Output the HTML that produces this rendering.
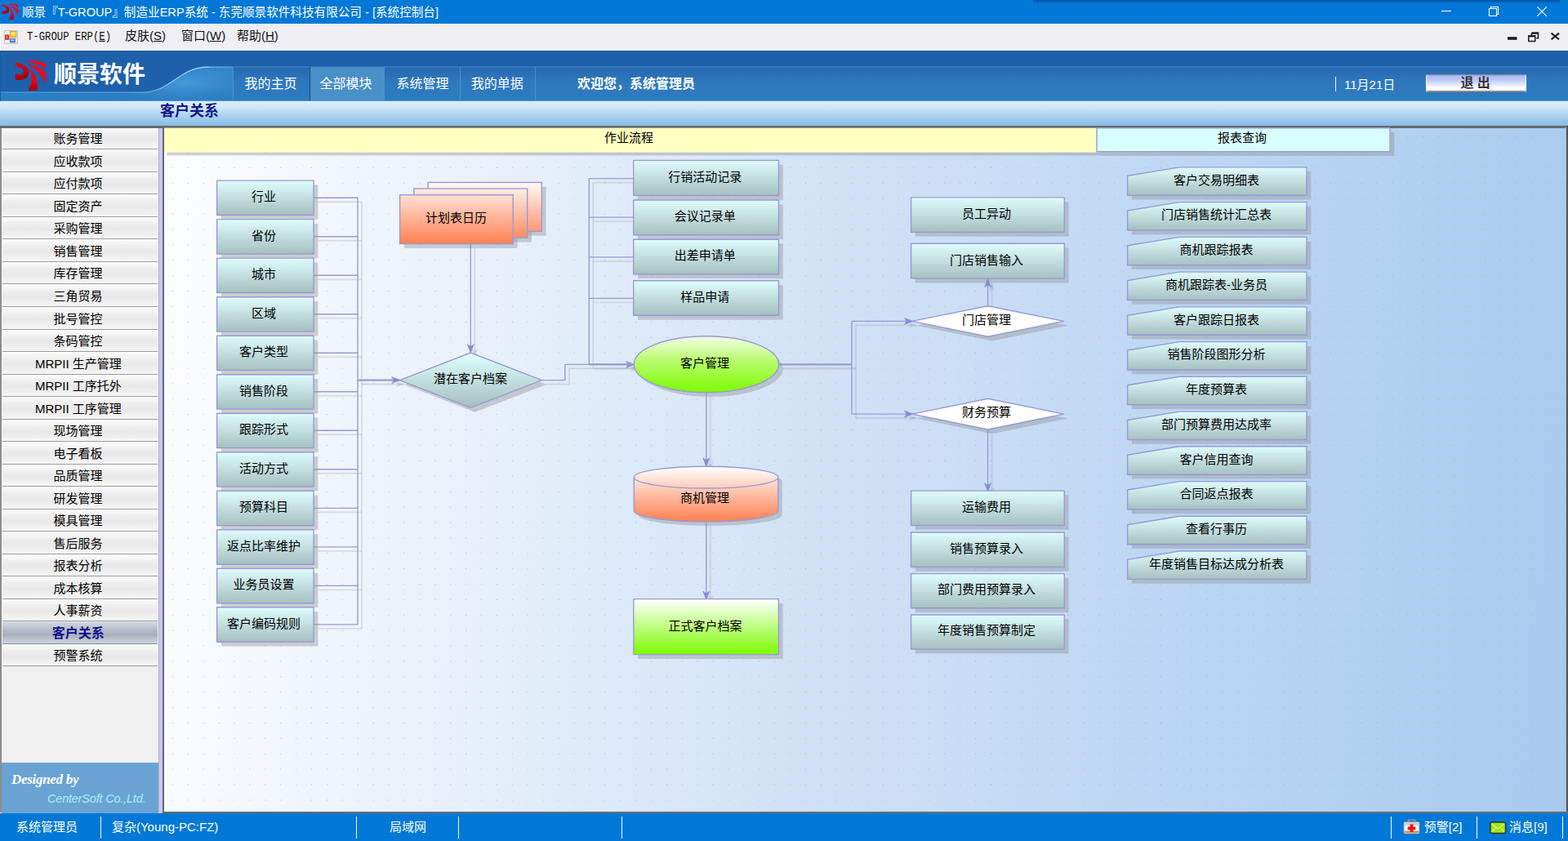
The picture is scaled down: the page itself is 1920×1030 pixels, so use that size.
<!DOCTYPE html>
<html lang="zh"><head><meta charset="utf-8"><title>T-GROUP ERP</title>
<style>
*{box-sizing:border-box;margin:0;padding:0}
html,body{width:1920px;height:1030px;overflow:hidden;background:#fff}
body{position:relative;font-family:"Liberation Serif",serif;font-size:15px;color:#000}
.abs{position:absolute}
.sans{font-family:"Liberation Sans",sans-serif}
.tx{font-family:"Liberation Sans","Noto Sans CJK SC",sans-serif;color:#000;white-space:nowrap;overflow:visible}
.tx.cw{color:#fff}
#title{left:0;top:0;width:1920px;height:29px;background:#0078d7}
#title .t{left:27px;top:0;height:29px;line-height:29px;font-size:14.6px;color:#fff;white-space:nowrap;letter-spacing:0.03px}
#menu{left:0;top:29px;width:1920px;height:33px;background:#efeef3;border-left:1px solid #fff}
#menu .m{top:0;height:33px;line-height:31px;font-size:15px;white-space:nowrap;color:#111}
#menu u{text-decoration:underline}
#hdr{left:0;top:62px;width:1920px;height:62px}
.tab{top:82px;height:42px;line-height:43px;font-size:16px;color:#fff;text-align:center;white-space:nowrap}
#sub{left:0;top:123.5px;width:1920px;height:31px;background:linear-gradient(to bottom,#dbf0fb 0%,#cde6f8 25%,#a6cfee 62%,#8bbee6 92%,#86bae4 100%)}
#sub .t{left:196px;top:0;height:29px;line-height:28px;font-size:18px;font-weight:bold;color:#10188c;white-space:nowrap}
#side{left:0;top:154px;width:201px;height:841.7px;background:#f0f0f0}
.si{left:2.5px;width:190.5px;padding-right:4.6px;text-align:center;font-size:15px;white-space:nowrap;border-top:1px solid #fff;border-bottom:1px solid #9a9a9a;background:linear-gradient(to bottom,#fbfbfb 0%,#eeeeee 30%,#e8e8e8 55%,#f6f6f6 100%)}
.si.sel{font-weight:bold;color:#10108c;font-size:16px;border-top:1px solid #e8e8ee;border-bottom:1px solid #80869a;background:linear-gradient(to bottom,#d2d6e0 0%,#b4bac8 40%,#a8b0c0 60%,#d0d4dc 100%)}
#main{left:201px;top:156px;width:1716px;height:838.5px;background:linear-gradient(95.5deg,#fcfdff 0%,#e9f1fb 22%,#d1e2f6 47%,#bcd6f3 72%,#a8caee 100%)}
#dots{left:201px;top:156px;width:1716px;height:838px;background-image:radial-gradient(circle,rgba(168,158,152,.7) 0.45px,rgba(168,158,152,0) 1.0px);background-size:18.92px 18.9px;background-position:0.95px 2.2px}
.lb{text-align:center;white-space:nowrap;font-size:15px;color:#000}
#status{left:0;top:995.6px;width:1920px;height:34.4px;background:#0078d7;color:#fff}
#status .s{top:0;height:35px;line-height:35px;font-size:15px;white-space:nowrap}
#status .sep{top:4.4px;width:1.5px;height:27px;background:#f4f8ff}
</style></head><body>

<div id="title" class="abs">
<div class="abs" style="left:1265px;top:0;width:645px;height:4px;background:linear-gradient(to bottom,rgba(0,50,110,.55),rgba(0,60,120,0))"></div>
<svg class="abs" style="left:1.5px;top:4px" width="21.6" height="21.6" viewBox="0 0 40 40">
<defs><linearGradient id="lta" x1="0" y1="0" x2="0.4" y2="1"><stop offset="0" stop-color="#e8041c"/><stop offset="1" stop-color="#a80008"/></linearGradient>
<linearGradient id="ltb" x1="0" y1="0" x2="0" y2="1"><stop offset="0" stop-color="#ff0420"/><stop offset="0.55" stop-color="#f00018"/><stop offset="1" stop-color="#a40008"/></linearGradient></defs>
<path fill="url(#lta)" d="M0.9 2.2 C8 3.2 17 7.5 17.2 14.5 C17.4 21.5 9.5 25.5 0.9 23.4 L0.9 16 C5.5 19 10.8 17.8 10.9 13.8 C11 10 6 7.6 0.9 7.2 Z"/>
<path fill="#ff0420" d="M12.4 1.5 C21 -0.8 31 0.2 38 4.4 L38 10.2 C31 4.8 22 2.2 12.4 1.5 Z"/>
<path fill="#fa0420" d="M15.8 4.4 C25 5.2 33 9.5 38 15.4 L37.6 29.4 C34 18 26 9.5 15.8 4.4 Z"/>
<path fill="url(#ltb)" d="M17.2 8.6 C24.5 14.5 28.6 25 28 36.6 L16.6 37.2 C21.5 28.5 22.2 18 17.2 8.6 Z"/>
</svg>
<svg class="abs" style="left:1750px;top:0" width="170" height="29" viewBox="1750 0 170 29" fill="none" stroke="#fff" stroke-width="1.1">
<path d="M1765 13.5H1777"/>
<path d="M1823.5 10.5h9v9h-9z M1825.5 10.5v-2h9v9h-2"/>
<path d="M1882.3 8.3l11.6 11.6M1893.9 8.3l-11.6 11.6"/>
</svg>
</div>
<div id="menu" class="abs">
<svg class="abs" style="left:4.2px;top:7.6px" width="17.2" height="17.2" viewBox="0 0 19 19">
<rect x="0.5" y="0.5" width="17.5" height="17.5" fill="#e4e4ea" stroke="#c4c4cc"/>
<rect x="1.5" y="1.5" width="5" height="4" fill="#f4f4f8"/>
<rect x="1.5" y="6.5" width="5" height="6" fill="#e03020" stroke="#a02018" stroke-width=".6"/>
<rect x="3" y="8" width="1.6" height="2.4" fill="#ffb0a0"/>
<rect x="1.5" y="13.5" width="5" height="3.5" fill="#f4f4f8"/>
<rect x="8" y="1.5" width="8.5" height="8" fill="#f8c828" stroke="#c89010" stroke-width=".7"/>
<rect x="9.5" y="3" width="5.5" height="3" fill="#fff0a0"/>
<rect x="8" y="11.5" width="7" height="5" fill="#5088e0" stroke="#3060b0" stroke-width=".6"/>
<rect x="9.3" y="12.6" width="4.4" height="1.8" fill="#b0d0ff"/>
</svg>
<div class="abs m" style="left:32px;width:120px;font-family:'Liberation Mono',monospace;font-size:12.3px;line-height:32.4px;transform:scale(1,1.24);transform-origin:0 50%;letter-spacing:-0.02px">T-GROUP ERP(<u>E</u>)</div>
<svg class="abs" style="left:1839px;top:6px" width="80" height="22" viewBox="1840 35 80 22">
<rect x="1846" y="45.2" width="11.5" height="3.6" fill="#1c1c1c"/>
<path d="M1875.5 40.2h8v6.6h-2.2M1875.5 40.2v3" fill="none" stroke="#1c1c1c" stroke-width="1.6"/>
<path d="M1875.5 40.7h8" stroke="#1c1c1c" stroke-width="2.2"/>
<rect x="1871.8" y="43.9" width="8" height="6.6" fill="#efeef3" stroke="#1c1c1c" stroke-width="1.5"/>
<path d="M1871.8 44.3h8" stroke="#1c1c1c" stroke-width="2.1"/>
<path d="M1899.6 40.6l9.4 7.6M1909 40.6l-9.4 7.6" stroke="#1c1c1c" stroke-width="2.1"/>
</svg>
</div>
<div id="hdr" class="abs">
<svg class="abs" style="left:0;top:0" width="1920" height="62" viewBox="0 62 1920 62">
<defs>
<linearGradient id="hg1" x1="0" y1="0" x2="0" y2="1"><stop offset="0" stop-color="#2867b0"/><stop offset="0.18" stop-color="#2a6eb6"/><stop offset="0.45" stop-color="#2e79be"/><stop offset="1" stop-color="#2c7bbf"/></linearGradient>
<linearGradient id="hg2" x1="0" y1="0" x2="0" y2="1"><stop offset="0" stop-color="#2f84c8"/><stop offset="1" stop-color="#2b7cc0"/></linearGradient>
<radialGradient id="hg3" cx="0.62" cy="0.45" r="0.6"><stop offset="0" stop-color="#4a9ad8" stop-opacity=".95"/><stop offset="1" stop-color="#3a8cd0" stop-opacity="0"/></radialGradient>
<linearGradient id="hgs" gradientUnits="userSpaceOnUse" x1="0" y1="0" x2="286" y2="0"><stop offset="0" stop-color="#4a9ee0"/><stop offset="0.55" stop-color="#4fa4e4"/><stop offset="0.8" stop-color="#a8d6f6"/><stop offset="0.9" stop-color="#b8defa"/><stop offset="1" stop-color="#6ab4ea"/></linearGradient>
<linearGradient id="hgl" x1="0" y1="0" x2="1" y2="0"><stop offset="0" stop-color="#1e60aa" stop-opacity="0"/><stop offset="0.25" stop-color="#1e60aa" stop-opacity="0"/><stop offset="1" stop-color="#2468b2" stop-opacity="0"/></linearGradient>
</defs>
<rect x="0" y="62" width="1920" height="62" fill="#1e60aa"/>
<rect x="250" y="82" width="1670" height="42" fill="url(#hg1)"/>
<path d="M0 113.4 H175 C208 113.4 220 82.3 254 82.3 H285.5 V124 H0 Z" fill="url(#hg2)"/>
<path d="M130 113.2 H175 C208 113.2 220 82.3 254 82.3 H285.5 V124 H130 Z" fill="url(#hg3)"/>
<path d="M0 113.1 H175 C208 113.1 220 82.2 254 82.2 H286" fill="none" stroke="url(#hgs)" stroke-width="1.15"/>
<path d="M256 82 H1920" stroke="#3f8fd6" stroke-width="1.2"/>
<rect x="380" y="82.5" width="90" height="41.5" fill="#4a90c8"/>
<path d="M379.5 82v42" stroke="#1c4f88" stroke-width="1.2"/>
<g stroke="#4d95d2" stroke-width="1" stroke-opacity=".85"><path d="M285.5 82v42M470.5 82v42M563.5 82v42M655.5 82v42"/></g>
<rect x="0" y="123" width="1920" height="1" fill="#5aa8e4" fill-opacity=".8"/>
<rect x="0" y="62" width="0.8" height="62" fill="#1a5598"/>
</svg>
<svg class="abs" style="left:18px;top:12px" width="40.0" height="40.0" viewBox="0 0 40 40">
<defs><linearGradient id="lha" x1="0" y1="0" x2="0.4" y2="1"><stop offset="0" stop-color="#e8041c"/><stop offset="1" stop-color="#a80008"/></linearGradient>
<linearGradient id="lhb" x1="0" y1="0" x2="0" y2="1"><stop offset="0" stop-color="#ff0420"/><stop offset="0.55" stop-color="#f00018"/><stop offset="1" stop-color="#a40008"/></linearGradient></defs>
<path fill="url(#lha)" d="M0.9 2.2 C8 3.2 17 7.5 17.2 14.5 C17.4 21.5 9.5 25.5 0.9 23.4 L0.9 16 C5.5 19 10.8 17.8 10.9 13.8 C11 10 6 7.6 0.9 7.2 Z"/>
<path fill="#ff0420" d="M12.4 1.5 C21 -0.8 31 0.2 38 4.4 L38 10.2 C31 4.8 22 2.2 12.4 1.5 Z"/>
<path fill="#fa0420" d="M15.8 4.4 C25 5.2 33 9.5 38 15.4 L37.6 29.4 C34 18 26 9.5 15.8 4.4 Z"/>
<path fill="url(#lhb)" d="M17.2 8.6 C24.5 14.5 28.6 25 28 36.6 L16.6 37.2 C21.5 28.5 22.2 18 17.2 8.6 Z"/>
</svg>
<div class="abs" style="left:1634.9px;top:32.2px;width:1.4px;height:17.4px;background:#eaf3fc"></div>
<div class="abs" style="left:1746px;top:29px;width:123.4px;height:22.2px;border-radius:3px;background:linear-gradient(to bottom,#6e6a78 0,#8890b8 1px,#aebcf6 2px,#b8c6f8 28%,#dfe5fd 55%,#ffffff 75%,#ffffff 88%,#8a8690 94%,#6a6264 100%);box-shadow:inset 1.5px 0 1px -0.5px rgba(255,255,255,.8),inset -1.5px 0 1px -0.5px rgba(255,255,255,.8)"></div>
</div>
<div id="sub" class="abs"></div>
<div id="side" class="abs">
<div class="abs" style="left:0;top:0;width:201px;height:2px;background:#5a6068"></div>
<div class="abs" style="left:0;top:0;width:2px;height:841px;background:#8c8c8c"></div>
<div class="abs" style="left:193.5px;top:2px;width:1px;height:839px;background:#b4b4b4"></div>
<div class="abs" style="left:194.8px;top:2px;width:4.5px;height:839.7px;background:#c8c8ff"></div>
<div class="abs" style="left:199.3px;top:1px;width:1.7px;height:840.7px;background:#686868"></div>
<div class="abs si" style="top:1.8px;height:27.5px"></div>
<div class="abs si" style="top:29.3px;height:27.5px"></div>
<div class="abs si" style="top:56.8px;height:27.6px"></div>
<div class="abs si" style="top:84.4px;height:27.5px"></div>
<div class="abs si" style="top:111.9px;height:27.5px"></div>
<div class="abs si" style="top:139.4px;height:27.5px"></div>
<div class="abs si" style="top:166.9px;height:27.5px"></div>
<div class="abs si" style="top:194.4px;height:27.6px"></div>
<div class="abs si" style="top:222.0px;height:27.5px"></div>
<div class="abs si" style="top:249.5px;height:27.5px"></div>
<div class="abs si" style="top:277.0px;height:27.5px"></div>
<div class="abs si" style="top:304.5px;height:27.5px"></div>
<div class="abs si" style="top:332.0px;height:27.6px"></div>
<div class="abs si" style="top:359.6px;height:27.5px"></div>
<div class="abs si" style="top:387.1px;height:27.5px"></div>
<div class="abs si" style="top:414.6px;height:27.5px"></div>
<div class="abs si" style="top:442.1px;height:27.5px"></div>
<div class="abs si" style="top:469.6px;height:27.6px"></div>
<div class="abs si" style="top:497.2px;height:27.5px"></div>
<div class="abs si" style="top:524.7px;height:27.5px"></div>
<div class="abs si" style="top:552.2px;height:27.5px"></div>
<div class="abs si" style="top:579.7px;height:27.5px"></div>
<div class="abs si sel" style="top:607.2px;height:27.6px"></div>
<div class="abs si" style="top:634.8px;height:27.5px"></div>
<div class="abs" style="left:2px;top:779.8px;width:191.8px;height:62px;background:#6aa3d3"></div>
<div class="abs" style="left:14px;top:789px;font-size:17px;font-style:italic;font-weight:bold;color:#fff;white-space:nowrap;line-height:24px;letter-spacing:-0.3px">Designed by</div>
<div class="abs sans" style="left:58px;top:814px;font-size:14.5px;font-style:italic;color:#a4f0fa;white-space:nowrap;line-height:20px;letter-spacing:-0.2px">CenterSoft Co.,Ltd.</div>
</div>
<div id="main" class="abs"></div>
<div id="dots" class="abs"></div>
<div class="abs" style="left:0;top:154px;width:1920px;height:2.8px;background:#666a6e"></div>
<div class="abs" style="left:1917px;top:156px;width:1px;height:839px;background:#a4b4c8"></div><div class="abs" style="left:1918px;top:154px;width:2px;height:841px;background:#54585e"></div>
<div class="abs" style="left:200px;top:994px;width:1720px;height:1.7px;background:#6e6e70"></div>
<svg class="abs" style="left:0;top:0;pointer-events:none" width="1920" height="1030" viewBox="0 0 1920 1030">
<defs>
<linearGradient id="gb" x1="0" y1="0" x2="0" y2="1"><stop offset="0" stop-color="#dffcfc"/><stop offset="1" stop-color="#a6c0c0"/></linearGradient>
<linearGradient id="gb2" x1="0" y1="0" x2="0" y2="1"><stop offset="0" stop-color="#e0ffff"/><stop offset="1" stop-color="#a4bebe"/></linearGradient>
<linearGradient id="gdoc" gradientUnits="userSpaceOnUse" x1="0" y1="223" x2="0" y2="299"><stop offset="0" stop-color="#fffaf8"/><stop offset="1" stop-color="#ff7f50"/></linearGradient>
<linearGradient id="gel" x1="0" y1="0" x2="0" y2="1"><stop offset="0" stop-color="#f4ffe6"/><stop offset="0.45" stop-color="#b6fc6a"/><stop offset="1" stop-color="#7cfc00"/></linearGradient>
<linearGradient id="gcy" x1="0" y1="0" x2="0" y2="1"><stop offset="0" stop-color="#ffffff"/><stop offset="1" stop-color="#ff7f50"/></linearGradient>
<linearGradient id="ggr" x1="0" y1="0" x2="0" y2="1"><stop offset="0" stop-color="#ffffff"/><stop offset="1" stop-color="#7cfc00"/></linearGradient>
</defs>
<path d="M389.2 247.2 L443.0 247.2" fill="none" stroke="rgba(150,150,155,0.26)" stroke-width="1.88"/>
<path d="M389.2 294.7 L443.0 294.7" fill="none" stroke="rgba(150,150,155,0.26)" stroke-width="1.88"/>
<path d="M389.2 342.2 L443.0 342.2" fill="none" stroke="rgba(150,150,155,0.26)" stroke-width="1.88"/>
<path d="M389.2 389.8 L443.0 389.8" fill="none" stroke="rgba(150,150,155,0.26)" stroke-width="1.88"/>
<path d="M389.2 437.3 L443.0 437.3" fill="none" stroke="rgba(150,150,155,0.26)" stroke-width="1.88"/>
<path d="M389.2 484.8 L443.0 484.8" fill="none" stroke="rgba(150,150,155,0.26)" stroke-width="1.88"/>
<path d="M389.2 532.3 L443.0 532.3" fill="none" stroke="rgba(150,150,155,0.26)" stroke-width="1.88"/>
<path d="M389.2 579.8 L443.0 579.8" fill="none" stroke="rgba(150,150,155,0.26)" stroke-width="1.88"/>
<path d="M389.2 627.4 L443.0 627.4" fill="none" stroke="rgba(150,150,155,0.26)" stroke-width="1.88"/>
<path d="M389.2 674.9 L443.0 674.9" fill="none" stroke="rgba(150,150,155,0.26)" stroke-width="1.88"/>
<path d="M389.2 722.4 L443.0 722.4" fill="none" stroke="rgba(150,150,155,0.26)" stroke-width="1.88"/>
<path d="M389.2 769.9 L443.0 769.9" fill="none" stroke="rgba(150,150,155,0.26)" stroke-width="1.88"/>
<path d="M443.0 247.2 L443.0 769.9" fill="none" stroke="rgba(150,150,155,0.26)" stroke-width="1.88"/>
<path d="M443.0 470.6 L494.5 470.6" fill="none" stroke="rgba(150,150,155,0.26)" stroke-width="2.9"/>
<polygon points="495.0,470.6 484.7,466.6 487.3,470.6 484.7,474.6" fill="rgba(150,150,155,0.26)"/>
<path d="M581.3 303.5 L581.3 436.6" fill="none" stroke="rgba(150,150,155,0.26)" stroke-width="1.88"/>
<polygon points="581.3,437.1 585.3,426.8 581.3,429.4 577.3,426.8" fill="rgba(150,150,155,0.26)"/>
<path d="M668.5 470.6 L696.8 470.6 L696.8 451.4 L781.5 451.4" fill="none" stroke="rgba(150,150,155,0.26)" stroke-width="1.88"/>
<polygon points="782.0,451.4 771.7,447.4 774.3,451.4 771.7,455.4" fill="rgba(150,150,155,0.26)"/>
<path d="M726.3 223.6 L781.0 223.6" fill="none" stroke="rgba(150,150,155,0.26)" stroke-width="1.88"/>
<path d="M726.3 271.1 L781.0 271.1" fill="none" stroke="rgba(150,150,155,0.26)" stroke-width="1.88"/>
<path d="M726.3 319.9 L781.0 319.9" fill="none" stroke="rgba(150,150,155,0.26)" stroke-width="1.88"/>
<path d="M726.3 370.4 L781.0 370.4" fill="none" stroke="rgba(150,150,155,0.26)" stroke-width="1.88"/>
<path d="M726.3 223.6 L726.3 451.4" fill="none" stroke="rgba(150,150,155,0.26)" stroke-width="1.88"/>
<path d="M726.3 451.4 L781.5 451.4" fill="none" stroke="rgba(150,150,155,0.26)" stroke-width="2.9"/>
<path d="M869.8 485.0 L869.8 575.8" fill="none" stroke="rgba(150,150,155,0.26)" stroke-width="1.88"/>
<polygon points="869.8,576.3 873.8,566.0 869.8,568.6 865.8,566.0" fill="rgba(150,150,155,0.26)"/>
<path d="M869.8 644.0 L869.8 739.0" fill="none" stroke="rgba(150,150,155,0.26)" stroke-width="1.88"/>
<polygon points="869.8,739.5 873.8,729.2 869.8,731.8 865.8,729.2" fill="rgba(150,150,155,0.26)"/>
<path d="M1214.6 379.8 L1214.6 346.8" fill="none" stroke="rgba(150,150,155,0.26)" stroke-width="1.88"/>
<polygon points="1214.6,346.3 1210.6,356.6 1214.6,354.0 1218.6,356.6" fill="rgba(150,150,155,0.26)"/>
<path d="M958.0 451.3 L1048.0 451.3" fill="none" stroke="rgba(150,150,155,0.26)" stroke-width="2.8"/>
<path d="M1048.0 398.4 L1048.0 512.1" fill="none" stroke="rgba(150,150,155,0.26)" stroke-width="1.88"/>
<path d="M1048.0 398.4 L1122.3 398.4" fill="none" stroke="rgba(150,150,155,0.26)" stroke-width="1.88"/>
<polygon points="1122.8,398.4 1112.5,394.4 1115.1,398.4 1112.5,402.4" fill="rgba(150,150,155,0.26)"/>
<path d="M1048.0 512.1 L1122.3 512.1" fill="none" stroke="rgba(150,150,155,0.26)" stroke-width="1.88"/>
<polygon points="1122.8,512.1 1112.5,508.1 1115.1,512.1 1112.5,516.1" fill="rgba(150,150,155,0.26)"/>
<path d="M1214.6 531.0 L1214.6 606.5" fill="none" stroke="rgba(150,150,155,0.26)" stroke-width="1.88"/>
<polygon points="1214.6,607.0 1218.6,596.7 1214.6,599.3 1210.6,596.7" fill="rgba(150,150,155,0.26)"/>
<path d="M384.2 242.2 L438.0 242.2" fill="none" stroke="#989ad6" stroke-width="1.38"/>
<path d="M384.2 289.7 L438.0 289.7" fill="none" stroke="#989ad6" stroke-width="1.38"/>
<path d="M384.2 337.2 L438.0 337.2" fill="none" stroke="#989ad6" stroke-width="1.38"/>
<path d="M384.2 384.8 L438.0 384.8" fill="none" stroke="#989ad6" stroke-width="1.38"/>
<path d="M384.2 432.3 L438.0 432.3" fill="none" stroke="#989ad6" stroke-width="1.38"/>
<path d="M384.2 479.8 L438.0 479.8" fill="none" stroke="#989ad6" stroke-width="1.38"/>
<path d="M384.2 527.3 L438.0 527.3" fill="none" stroke="#989ad6" stroke-width="1.38"/>
<path d="M384.2 574.8 L438.0 574.8" fill="none" stroke="#989ad6" stroke-width="1.38"/>
<path d="M384.2 622.4 L438.0 622.4" fill="none" stroke="#989ad6" stroke-width="1.38"/>
<path d="M384.2 669.9 L438.0 669.9" fill="none" stroke="#989ad6" stroke-width="1.38"/>
<path d="M384.2 717.4 L438.0 717.4" fill="none" stroke="#989ad6" stroke-width="1.38"/>
<path d="M384.2 764.9 L438.0 764.9" fill="none" stroke="#989ad6" stroke-width="1.38"/>
<path d="M438.0 242.2 L438.0 764.9" fill="none" stroke="#989ad6" stroke-width="1.38"/>
<path d="M438.0 465.6 L489.5 465.6" fill="none" stroke="#989ad6" stroke-width="2.4"/>
<polygon points="490.0,465.6 479.7,461.6 482.3,465.6 479.7,469.6" fill="#8c8cd4" stroke="#8484cc" stroke-width=".6"/>
<path d="M576.3 298.5 L576.3 431.6" fill="none" stroke="#989ad6" stroke-width="1.38"/>
<polygon points="576.3,432.1 580.3,421.8 576.3,424.4 572.3,421.8" fill="#8c8cd4" stroke="#8484cc" stroke-width=".6"/>
<path d="M663.5 465.6 L691.8 465.6 L691.8 446.4 L776.5 446.4" fill="none" stroke="#989ad6" stroke-width="1.38"/>
<polygon points="777.0,446.4 766.7,442.4 769.3,446.4 766.7,450.4" fill="#8c8cd4" stroke="#8484cc" stroke-width=".6"/>
<path d="M721.3 218.6 L776.0 218.6" fill="none" stroke="#989ad6" stroke-width="1.38"/>
<path d="M721.3 266.1 L776.0 266.1" fill="none" stroke="#989ad6" stroke-width="1.38"/>
<path d="M721.3 314.9 L776.0 314.9" fill="none" stroke="#989ad6" stroke-width="1.38"/>
<path d="M721.3 365.4 L776.0 365.4" fill="none" stroke="#989ad6" stroke-width="1.38"/>
<path d="M721.3 218.6 L721.3 446.4" fill="none" stroke="#989ad6" stroke-width="1.38"/>
<path d="M721.3 446.4 L776.5 446.4" fill="none" stroke="#989ad6" stroke-width="2.4"/>
<path d="M864.8 480.0 L864.8 570.8" fill="none" stroke="#989ad6" stroke-width="1.38"/>
<polygon points="864.8,571.3 868.8,561.0 864.8,563.6 860.8,561.0" fill="#8c8cd4" stroke="#8484cc" stroke-width=".6"/>
<path d="M864.8 639.0 L864.8 734.0" fill="none" stroke="#989ad6" stroke-width="1.38"/>
<polygon points="864.8,734.5 868.8,724.2 864.8,726.8 860.8,724.2" fill="#8c8cd4" stroke="#8484cc" stroke-width=".6"/>
<path d="M1209.6 374.8 L1209.6 341.8" fill="none" stroke="#989ad6" stroke-width="1.38"/>
<polygon points="1209.6,341.3 1205.6,351.6 1209.6,349.0 1213.6,351.6" fill="#8c8cd4" stroke="#8484cc" stroke-width=".6"/>
<path d="M953.0 446.3 L1043.0 446.3" fill="none" stroke="#989ad6" stroke-width="2.3"/>
<path d="M1043.0 393.4 L1043.0 507.1" fill="none" stroke="#989ad6" stroke-width="1.38"/>
<path d="M1043.0 393.4 L1117.3 393.4" fill="none" stroke="#989ad6" stroke-width="1.38"/>
<polygon points="1117.8,393.4 1107.5,389.4 1110.1,393.4 1107.5,397.4" fill="#8c8cd4" stroke="#8484cc" stroke-width=".6"/>
<path d="M1043.0 507.1 L1117.3 507.1" fill="none" stroke="#989ad6" stroke-width="1.38"/>
<polygon points="1117.8,507.1 1107.5,503.1 1110.1,507.1 1107.5,511.1" fill="#8c8cd4" stroke="#8484cc" stroke-width=".6"/>
<path d="M1209.6 526.0 L1209.6 601.5" fill="none" stroke="#989ad6" stroke-width="1.38"/>
<polygon points="1209.6,602.0 1213.6,591.7 1209.6,594.3 1205.6,591.7" fill="#8c8cd4" stroke="#8484cc" stroke-width=".6"/>
<rect x="204.5" y="186.5" width="1144" height="3.9" fill="rgba(150,150,152,0.44)"/>
<rect x="201" y="156.7" width="1141.5" height="29.8" fill="#ffffc0"/>
<rect x="1348.3" y="162.1" width="359.0" height="28.8" fill="rgba(150,150,152,0.44)"/>
<rect x="1343.0" y="156.8" width="359.0" height="28.8" fill="#d8ffff" stroke="#989ad6" stroke-width="1.38" stroke-linejoin="round"/>
<rect x="270.9" y="226.4" width="118.5" height="42.4" fill="rgba(150,150,152,0.44)"/>
<rect x="265.6" y="221.1" width="118.5" height="42.4" fill="url(#gb)" stroke="#989ad6" stroke-width="1.38" stroke-linejoin="round"/>
<rect x="270.9" y="273.9" width="118.5" height="42.4" fill="rgba(150,150,152,0.44)"/>
<rect x="265.6" y="268.6" width="118.5" height="42.4" fill="url(#gb)" stroke="#989ad6" stroke-width="1.38" stroke-linejoin="round"/>
<rect x="270.9" y="321.4" width="118.5" height="42.4" fill="rgba(150,150,152,0.44)"/>
<rect x="265.6" y="316.1" width="118.5" height="42.4" fill="url(#gb)" stroke="#989ad6" stroke-width="1.38" stroke-linejoin="round"/>
<rect x="270.9" y="369.0" width="118.5" height="42.4" fill="rgba(150,150,152,0.44)"/>
<rect x="265.6" y="363.7" width="118.5" height="42.4" fill="url(#gb)" stroke="#989ad6" stroke-width="1.38" stroke-linejoin="round"/>
<rect x="270.9" y="416.5" width="118.5" height="42.4" fill="rgba(150,150,152,0.44)"/>
<rect x="265.6" y="411.2" width="118.5" height="42.4" fill="url(#gb)" stroke="#989ad6" stroke-width="1.38" stroke-linejoin="round"/>
<rect x="270.9" y="464.0" width="118.5" height="42.4" fill="rgba(150,150,152,0.44)"/>
<rect x="265.6" y="458.7" width="118.5" height="42.4" fill="url(#gb)" stroke="#989ad6" stroke-width="1.38" stroke-linejoin="round"/>
<rect x="270.9" y="511.5" width="118.5" height="42.4" fill="rgba(150,150,152,0.44)"/>
<rect x="265.6" y="506.2" width="118.5" height="42.4" fill="url(#gb)" stroke="#989ad6" stroke-width="1.38" stroke-linejoin="round"/>
<rect x="270.9" y="559.0" width="118.5" height="42.4" fill="rgba(150,150,152,0.44)"/>
<rect x="265.6" y="553.7" width="118.5" height="42.4" fill="url(#gb)" stroke="#989ad6" stroke-width="1.38" stroke-linejoin="round"/>
<rect x="270.9" y="606.6" width="118.5" height="42.4" fill="rgba(150,150,152,0.44)"/>
<rect x="265.6" y="601.3" width="118.5" height="42.4" fill="url(#gb)" stroke="#989ad6" stroke-width="1.38" stroke-linejoin="round"/>
<rect x="270.9" y="654.1" width="118.5" height="42.4" fill="rgba(150,150,152,0.44)"/>
<rect x="265.6" y="648.8" width="118.5" height="42.4" fill="url(#gb)" stroke="#989ad6" stroke-width="1.38" stroke-linejoin="round"/>
<rect x="270.9" y="701.6" width="118.5" height="42.4" fill="rgba(150,150,152,0.44)"/>
<rect x="265.6" y="696.3" width="118.5" height="42.4" fill="url(#gb)" stroke="#989ad6" stroke-width="1.38" stroke-linejoin="round"/>
<rect x="270.9" y="749.1" width="118.5" height="42.4" fill="rgba(150,150,152,0.44)"/>
<rect x="265.6" y="743.8" width="118.5" height="42.4" fill="url(#gb)" stroke="#989ad6" stroke-width="1.38" stroke-linejoin="round"/>
<rect x="529.4" y="228.7" width="139.2" height="60.0" fill="rgba(150,150,152,0.44)"/>
<rect x="512.1" y="236.3" width="138.9" height="60.3" fill="rgba(150,150,152,0.44)"/>
<rect x="494.9" y="244.0" width="138.6" height="59.9" fill="rgba(150,150,152,0.44)"/>
<rect x="524.1" y="223.4" width="139.2" height="60.0" fill="url(#gdoc)" stroke="#989ad6" stroke-width="1.38"/>
<rect x="506.8" y="231.0" width="138.9" height="60.3" fill="url(#gdoc)" stroke="#989ad6" stroke-width="1.38"/>
<rect x="489.6" y="238.7" width="138.6" height="59.9" fill="url(#gdoc)" stroke="#989ad6" stroke-width="1.38"/>
<polygon points="494.8,470.9 581.6,437.3 668.8,470.9 581.6,504.7" fill="rgba(150,150,152,0.44)"/>
<polygon points="489.5,465.6 576.3,432.0 663.5,465.6 576.3,499.4" fill="url(#gb2)" stroke="#989ad6" stroke-width="1.38" stroke-linejoin="round"/>
<rect x="781.0" y="201.7" width="177.8" height="43.1" fill="rgba(150,150,152,0.44)"/>
<rect x="775.7" y="196.4" width="177.8" height="43.1" fill="url(#gb)" stroke="#989ad6" stroke-width="1.38" stroke-linejoin="round"/>
<rect x="781.0" y="250.3" width="177.8" height="42.8" fill="rgba(150,150,152,0.44)"/>
<rect x="775.7" y="245.0" width="177.8" height="42.8" fill="url(#gb)" stroke="#989ad6" stroke-width="1.38" stroke-linejoin="round"/>
<rect x="781.0" y="298.6" width="177.8" height="42.5" fill="rgba(150,150,152,0.44)"/>
<rect x="775.7" y="293.2" width="177.8" height="42.5" fill="url(#gb)" stroke="#989ad6" stroke-width="1.38" stroke-linejoin="round"/>
<rect x="781.0" y="349.0" width="177.8" height="42.6" fill="rgba(150,150,152,0.44)"/>
<rect x="775.7" y="343.7" width="177.8" height="42.6" fill="url(#gb)" stroke="#989ad6" stroke-width="1.38" stroke-linejoin="round"/>
<ellipse cx="870.0999999999999" cy="451.5" rx="88.6" ry="34.4" fill="rgba(150,150,152,0.44)"/>
<ellipse cx="864.8" cy="446.2" rx="88.6" ry="34.4" fill="url(#gel)" stroke="#989ad6" stroke-width="1.38"/>
<path d="M781.3 589.6 A88.2 13.4 0 0 1 957.8 589.6 V630.5 A88.2 13.4 0 0 1 781.3 630.5 Z" fill="rgba(150,150,152,0.44)" />
<path d="M776.3 584.6 A88.2 13.4 0 0 1 952.8 584.6 V625.5 A88.2 13.4 0 0 1 776.3 625.5 Z" fill="url(#gcy)" stroke="#989ad6" stroke-width="1.38"/>
<path d="M776.3 584.6 A88.2 13.4 0 0 0 952.8 584.6" fill="none" stroke="#989ad6" stroke-width="1.38"/>
<rect x="781.2" y="738.9" width="177.5" height="68.0" fill="rgba(150,150,152,0.44)"/>
<rect x="775.9" y="733.6" width="177.5" height="68.0" fill="url(#ggr)" stroke="#989ad6" stroke-width="1.38" stroke-linejoin="round"/>
<rect x="1120.9" y="247.2" width="187.7" height="42.5" fill="rgba(150,150,152,0.44)"/>
<rect x="1115.6" y="241.9" width="187.7" height="42.5" fill="url(#gb)" stroke="#989ad6" stroke-width="1.38" stroke-linejoin="round"/>
<rect x="1120.9" y="303.6" width="187.7" height="42.8" fill="rgba(150,150,152,0.44)"/>
<rect x="1115.6" y="298.3" width="187.7" height="42.8" fill="url(#gb)" stroke="#989ad6" stroke-width="1.38" stroke-linejoin="round"/>
<polygon points="1122.3,398.7 1214.9,380.1 1307.9,398.7 1214.9,417.5" fill="rgba(150,150,152,0.44)"/>
<polygon points="1117.0,393.4 1209.6,374.8 1302.6,393.4 1209.6,412.2" fill="#ffffff" stroke="#989ad6" stroke-width="1.38" stroke-linejoin="round"/>
<polygon points="1122.3,512.4 1214.9,493.6 1307.9,512.4 1214.9,531.3" fill="rgba(150,150,152,0.44)"/>
<polygon points="1117.0,507.1 1209.6,488.3 1302.6,507.1 1209.6,526.0" fill="#ffffff" stroke="#989ad6" stroke-width="1.38" stroke-linejoin="round"/>
<rect x="1120.9" y="606.4" width="187.7" height="42.4" fill="rgba(150,150,152,0.44)"/>
<rect x="1115.6" y="601.1" width="187.7" height="42.4" fill="url(#gb)" stroke="#989ad6" stroke-width="1.38" stroke-linejoin="round"/>
<rect x="1120.9" y="657.3" width="187.7" height="42.5" fill="rgba(150,150,152,0.44)"/>
<rect x="1115.6" y="652.0" width="187.7" height="42.5" fill="url(#gb)" stroke="#989ad6" stroke-width="1.38" stroke-linejoin="round"/>
<rect x="1120.9" y="707.9" width="187.7" height="42.2" fill="rgba(150,150,152,0.44)"/>
<rect x="1115.6" y="702.6" width="187.7" height="42.2" fill="url(#gb)" stroke="#989ad6" stroke-width="1.38" stroke-linejoin="round"/>
<rect x="1120.9" y="758.3" width="187.7" height="42.1" fill="rgba(150,150,152,0.44)"/>
<rect x="1115.6" y="753.0" width="187.7" height="42.1" fill="url(#gb)" stroke="#989ad6" stroke-width="1.38" stroke-linejoin="round"/>
<polygon points="1385.9,220.6 1449.4,210.2 1605.3,210.2 1605.3,244.6 1385.9,244.6" fill="rgba(150,150,152,0.44)"/>
<polygon points="1380.6,215.3 1444.1,204.9 1600.0,204.9 1600.0,239.3 1380.6,239.3" fill="url(#gb)" stroke="#989ad6" stroke-width="1.38" stroke-linejoin="round"/>
<polygon points="1385.9,263.3 1449.4,252.9 1605.3,252.9 1605.3,287.3 1385.9,287.3" fill="rgba(150,150,152,0.44)"/>
<polygon points="1380.6,258.0 1444.1,247.6 1600.0,247.6 1600.0,282.0 1380.6,282.0" fill="url(#gb)" stroke="#989ad6" stroke-width="1.38" stroke-linejoin="round"/>
<polygon points="1385.9,306.1 1449.4,295.7 1605.3,295.7 1605.3,330.1 1385.9,330.1" fill="rgba(150,150,152,0.44)"/>
<polygon points="1380.6,300.8 1444.1,290.4 1600.0,290.4 1600.0,324.8 1380.6,324.8" fill="url(#gb)" stroke="#989ad6" stroke-width="1.38" stroke-linejoin="round"/>
<polygon points="1385.9,348.8 1449.4,338.4 1605.3,338.4 1605.3,372.8 1385.9,372.8" fill="rgba(150,150,152,0.44)"/>
<polygon points="1380.6,343.5 1444.1,333.1 1600.0,333.1 1600.0,367.5 1380.6,367.5" fill="url(#gb)" stroke="#989ad6" stroke-width="1.38" stroke-linejoin="round"/>
<polygon points="1385.9,391.6 1449.4,381.2 1605.3,381.2 1605.3,415.6 1385.9,415.6" fill="rgba(150,150,152,0.44)"/>
<polygon points="1380.6,386.3 1444.1,375.9 1600.0,375.9 1600.0,410.3 1380.6,410.3" fill="url(#gb)" stroke="#989ad6" stroke-width="1.38" stroke-linejoin="round"/>
<polygon points="1385.9,434.3 1449.4,423.9 1605.3,423.9 1605.3,458.3 1385.9,458.3" fill="rgba(150,150,152,0.44)"/>
<polygon points="1380.6,429.0 1444.1,418.6 1600.0,418.6 1600.0,453.0 1380.6,453.0" fill="url(#gb)" stroke="#989ad6" stroke-width="1.38" stroke-linejoin="round"/>
<polygon points="1385.9,477.0 1449.4,466.6 1605.3,466.6 1605.3,501.0 1385.9,501.0" fill="rgba(150,150,152,0.44)"/>
<polygon points="1380.6,471.7 1444.1,461.3 1600.0,461.3 1600.0,495.7 1380.6,495.7" fill="url(#gb)" stroke="#989ad6" stroke-width="1.38" stroke-linejoin="round"/>
<polygon points="1385.9,519.8 1449.4,509.4 1605.3,509.4 1605.3,543.8 1385.9,543.8" fill="rgba(150,150,152,0.44)"/>
<polygon points="1380.6,514.5 1444.1,504.1 1600.0,504.1 1600.0,538.5 1380.6,538.5" fill="url(#gb)" stroke="#989ad6" stroke-width="1.38" stroke-linejoin="round"/>
<polygon points="1385.9,562.5 1449.4,552.1 1605.3,552.1 1605.3,586.5 1385.9,586.5" fill="rgba(150,150,152,0.44)"/>
<polygon points="1380.6,557.2 1444.1,546.8 1600.0,546.8 1600.0,581.2 1380.6,581.2" fill="url(#gb)" stroke="#989ad6" stroke-width="1.38" stroke-linejoin="round"/>
<polygon points="1385.9,605.3 1449.4,594.9 1605.3,594.9 1605.3,629.3 1385.9,629.3" fill="rgba(150,150,152,0.44)"/>
<polygon points="1380.6,600.0 1444.1,589.6 1600.0,589.6 1600.0,624.0 1380.6,624.0" fill="url(#gb)" stroke="#989ad6" stroke-width="1.38" stroke-linejoin="round"/>
<polygon points="1385.9,648.0 1449.4,637.6 1605.3,637.6 1605.3,672.0 1385.9,672.0" fill="rgba(150,150,152,0.44)"/>
<polygon points="1380.6,642.7 1444.1,632.3 1600.0,632.3 1600.0,666.7 1380.6,666.7" fill="url(#gb)" stroke="#989ad6" stroke-width="1.38" stroke-linejoin="round"/>
<polygon points="1385.9,690.7 1449.4,680.3 1605.3,680.3 1605.3,714.7 1385.9,714.7" fill="rgba(150,150,152,0.44)"/>
<polygon points="1380.6,685.4 1444.1,675.0 1600.0,675.0 1600.0,709.4 1380.6,709.4" fill="url(#gb)" stroke="#989ad6" stroke-width="1.38" stroke-linejoin="round"/>
</svg>
<div id="status" class="abs">
<div class="abs sep" style="left:122.5px"></div>
<div class="abs sep" style="left:435.5px"></div>
<div class="abs sep" style="left:560.5px"></div>
<div class="abs sep" style="left:760.5px"></div>
<div class="abs sep" style="left:1702.5px"></div>
<div class="abs sep" style="left:1807.5px"></div>
<div class="abs sep" style="left:1912.5px"></div>
<svg class="abs" style="left:1718px;top:6.4px" width="21" height="21" viewBox="0 0 21 21">
<path d="M6.5 4.5V2.2h8V4.5" fill="none" stroke="#8a94a4" stroke-width="1.6"/>
<rect x="1" y="4.5" width="19" height="14.5" rx="1.5" fill="#f2f4f8" stroke="#8a94a4" stroke-width="1"/>
<rect x="1.5" y="5" width="18" height="4" fill="#c8d0dc"/>
<rect x="1.5" y="15.5" width="18" height="3" fill="#c0a070"/>
<path d="M8.6 7.5h3.8v2.9h2.9v3.8h-2.9v2.9H8.6v-2.9H5.7v-3.8h2.9z" fill="#ee1010"/>
</svg>
<svg class="abs" style="left:1824px;top:10.4px" width="21" height="16" viewBox="0 0 21 16">
<rect x="1" y="1" width="18.5" height="13.5" rx="2" fill="#a4e41c" stroke="#303820" stroke-width="1.4"/>
<path d="M2.5 3l7.8 6 7.8-6M2.5 12.8l5.6-5M18 12.8l-5.6-5" fill="none" stroke="#e8ffb0" stroke-width="1"/>
</svg>
</div>
<div class="abs tx sans cw" style="left:27.0px;top:3.5px;width:526.0px;height:22px;line-height:22px;font-size:14.6px;text-align:left">顺景『T-GROUP』制造业ERP系统 - 东莞顺景软件科技有限公司 - [系统控制台]</div>
<div class="abs tx" style="left:153.0px;top:33.9px;width:57.1px;height:20px;line-height:20px;font-size:15px;text-align:left;color:#111">皮肤(<u>S</u>)</div>
<div class="abs tx" style="left:222.0px;top:33.9px;width:57.1px;height:20px;line-height:20px;font-size:15px;text-align:left;color:#111">窗口(<u>W</u>)</div>
<div class="abs tx" style="left:290.0px;top:33.9px;width:57.1px;height:20px;line-height:20px;font-size:15px;text-align:left;color:#111">帮助(<u>H</u>)</div>
<div class="abs tx sans cw" style="left:66.0px;top:73.6px;width:117.8px;height:36px;line-height:36px;font-size:28px;font-weight:bold;text-align:left">顺景软件</div>
<div class="abs tx cw" style="left:297.8px;top:91.5px;width:67.4px;height:21px;line-height:21px;font-size:16px;text-align:center">我的主页</div>
<div class="abs tx cw" style="left:389.8px;top:91.5px;width:67.4px;height:21px;line-height:21px;font-size:16px;text-align:center">全部模块</div>
<div class="abs tx cw" style="left:483.8px;top:91.5px;width:67.4px;height:21px;line-height:21px;font-size:16px;text-align:center">系统管理</div>
<div class="abs tx cw" style="left:575.1px;top:91.5px;width:67.4px;height:21px;line-height:21px;font-size:16px;text-align:center">我的单据</div>
<div class="abs tx cw" style="left:707.0px;top:92.3px;width:150.0px;height:21px;line-height:21px;font-size:16px;font-weight:bold;text-align:left">欢迎您，系统管理员</div>
<div class="abs tx cw" style="left:1646.0px;top:93.6px;width:64.0px;height:20px;line-height:20px;font-size:15px;text-align:left">11月21日</div>
<div class="abs tx" style="left:1788.4px;top:90.5px;width:46.3px;height:21px;line-height:21px;font-size:16px;font-weight:bold;text-align:left;color:#34343c">退 出</div>
<div class="abs tx" style="left:196.0px;top:125.3px;width:76.6px;height:23px;line-height:23px;font-size:18px;font-weight:bold;text-align:left;color:#10188c">客户关系</div>
<div class="abs tx" style="left:63.4px;top:160.4px;width:64.0px;height:20px;line-height:20px;font-size:15px;text-align:center">账务管理</div>
<div class="abs tx" style="left:63.4px;top:187.9px;width:64.0px;height:20px;line-height:20px;font-size:15px;text-align:center">应收款项</div>
<div class="abs tx" style="left:63.4px;top:215.4px;width:64.0px;height:20px;line-height:20px;font-size:15px;text-align:center">应付款项</div>
<div class="abs tx" style="left:63.4px;top:243.0px;width:64.0px;height:20px;line-height:20px;font-size:15px;text-align:center">固定资产</div>
<div class="abs tx" style="left:63.4px;top:270.4px;width:64.0px;height:20px;line-height:20px;font-size:15px;text-align:center">采购管理</div>
<div class="abs tx" style="left:63.4px;top:297.9px;width:64.0px;height:20px;line-height:20px;font-size:15px;text-align:center">销售管理</div>
<div class="abs tx" style="left:63.4px;top:325.4px;width:64.0px;height:20px;line-height:20px;font-size:15px;text-align:center">库存管理</div>
<div class="abs tx" style="left:63.4px;top:353.0px;width:64.0px;height:20px;line-height:20px;font-size:15px;text-align:center">三角贸易</div>
<div class="abs tx" style="left:63.4px;top:380.6px;width:64.0px;height:20px;line-height:20px;font-size:15px;text-align:center">批号管控</div>
<div class="abs tx" style="left:63.4px;top:408.1px;width:64.0px;height:20px;line-height:20px;font-size:15px;text-align:center">条码管控</div>
<div class="abs tx" style="left:42.9px;top:435.6px;width:104.9px;height:20px;line-height:20px;font-size:15px;text-align:center">MRPII 生产管理</div>
<div class="abs tx" style="left:42.9px;top:463.1px;width:104.9px;height:20px;line-height:20px;font-size:15px;text-align:center">MRPII 工序托外</div>
<div class="abs tx" style="left:42.9px;top:490.6px;width:104.9px;height:20px;line-height:20px;font-size:15px;text-align:center">MRPII 工序管理</div>
<div class="abs tx" style="left:63.4px;top:518.1px;width:64.0px;height:20px;line-height:20px;font-size:15px;text-align:center">现场管理</div>
<div class="abs tx" style="left:63.4px;top:545.6px;width:64.0px;height:20px;line-height:20px;font-size:15px;text-align:center">电子看板</div>
<div class="abs tx" style="left:63.4px;top:573.1px;width:64.0px;height:20px;line-height:20px;font-size:15px;text-align:center">品质管理</div>
<div class="abs tx" style="left:63.4px;top:600.6px;width:64.0px;height:20px;line-height:20px;font-size:15px;text-align:center">研发管理</div>
<div class="abs tx" style="left:63.4px;top:628.2px;width:64.0px;height:20px;line-height:20px;font-size:15px;text-align:center">模具管理</div>
<div class="abs tx" style="left:63.4px;top:655.8px;width:64.0px;height:20px;line-height:20px;font-size:15px;text-align:center">售后服务</div>
<div class="abs tx" style="left:63.4px;top:683.2px;width:64.0px;height:20px;line-height:20px;font-size:15px;text-align:center">报表分析</div>
<div class="abs tx" style="left:63.4px;top:710.8px;width:64.0px;height:20px;line-height:20px;font-size:15px;text-align:center">成本核算</div>
<div class="abs tx" style="left:63.4px;top:738.2px;width:64.0px;height:20px;line-height:20px;font-size:15px;text-align:center">人事薪资</div>
<div class="abs tx" style="left:61.8px;top:765.1px;width:68.0px;height:21px;line-height:21px;font-size:16px;font-weight:bold;text-align:center;color:#10108c">客户关系</div>
<div class="abs tx" style="left:63.4px;top:793.3px;width:64.0px;height:20px;line-height:20px;font-size:15px;text-align:center">预警系统</div>
<div class="abs tx" style="left:738.0px;top:159.0px;width:64.0px;height:20px;line-height:20px;font-size:15px;text-align:center">作业流程</div>
<div class="abs tx" style="left:1489.0px;top:159.0px;width:64.0px;height:20px;line-height:20px;font-size:15px;text-align:center">报表查询</div>
<div class="abs tx" style="left:306.0px;top:231.0px;width:34.0px;height:20px;line-height:20px;font-size:15px;text-align:center">行业</div>
<div class="abs tx" style="left:306.0px;top:278.5px;width:34.0px;height:20px;line-height:20px;font-size:15px;text-align:center">省份</div>
<div class="abs tx" style="left:306.0px;top:326.0px;width:34.0px;height:20px;line-height:20px;font-size:15px;text-align:center">城市</div>
<div class="abs tx" style="left:306.0px;top:373.6px;width:34.0px;height:20px;line-height:20px;font-size:15px;text-align:center">区域</div>
<div class="abs tx" style="left:291.0px;top:421.1px;width:64.0px;height:20px;line-height:20px;font-size:15px;text-align:center">客户类型</div>
<div class="abs tx" style="left:291.0px;top:468.6px;width:64.0px;height:20px;line-height:20px;font-size:15px;text-align:center">销售阶段</div>
<div class="abs tx" style="left:291.0px;top:516.1px;width:64.0px;height:20px;line-height:20px;font-size:15px;text-align:center">跟踪形式</div>
<div class="abs tx" style="left:291.0px;top:563.6px;width:64.0px;height:20px;line-height:20px;font-size:15px;text-align:center">活动方式</div>
<div class="abs tx" style="left:291.0px;top:611.2px;width:64.0px;height:20px;line-height:20px;font-size:15px;text-align:center">预算科目</div>
<div class="abs tx" style="left:276.0px;top:658.7px;width:94.0px;height:20px;line-height:20px;font-size:15px;text-align:center">返点比率维护</div>
<div class="abs tx" style="left:283.5px;top:706.2px;width:79.0px;height:20px;line-height:20px;font-size:15px;text-align:center">业务员设置</div>
<div class="abs tx" style="left:276.0px;top:753.7px;width:94.0px;height:20px;line-height:20px;font-size:15px;text-align:center">客户编码规则</div>
<div class="abs tx" style="left:519.0px;top:257.2px;width:79.0px;height:20px;line-height:20px;font-size:15px;text-align:center">计划表日历</div>
<div class="abs tx" style="left:529.0px;top:453.7px;width:94.0px;height:20px;line-height:20px;font-size:15px;text-align:center">潜在客户档案</div>
<div class="abs tx" style="left:816.3px;top:206.5px;width:94.0px;height:20px;line-height:20px;font-size:15px;text-align:center">行销活动记录</div>
<div class="abs tx" style="left:823.8px;top:254.9px;width:79.0px;height:20px;line-height:20px;font-size:15px;text-align:center">会议记录单</div>
<div class="abs tx" style="left:823.8px;top:303.1px;width:79.0px;height:20px;line-height:20px;font-size:15px;text-align:center">出差申请单</div>
<div class="abs tx" style="left:831.3px;top:353.6px;width:64.0px;height:20px;line-height:20px;font-size:15px;text-align:center">样品申请</div>
<div class="abs tx" style="left:831.0px;top:434.7px;width:64.0px;height:20px;line-height:20px;font-size:15px;text-align:center">客户管理</div>
<div class="abs tx" style="left:831.0px;top:599.7px;width:64.0px;height:20px;line-height:20px;font-size:15px;text-align:center">商机管理</div>
<div class="abs tx" style="left:816.4px;top:756.6px;width:94.0px;height:20px;line-height:20px;font-size:15px;text-align:center">正式客户档案</div>
<div class="abs tx" style="left:1176.1px;top:252.1px;width:64.0px;height:20px;line-height:20px;font-size:15px;text-align:center">员工异动</div>
<div class="abs tx" style="left:1161.1px;top:308.7px;width:94.0px;height:20px;line-height:20px;font-size:15px;text-align:center">门店销售输入</div>
<div class="abs tx" style="left:1176.0px;top:382.2px;width:64.0px;height:20px;line-height:20px;font-size:15px;text-align:center">门店管理</div>
<div class="abs tx" style="left:1176.0px;top:494.7px;width:64.0px;height:20px;line-height:20px;font-size:15px;text-align:center">财务预算</div>
<div class="abs tx" style="left:1176.1px;top:611.3px;width:64.0px;height:20px;line-height:20px;font-size:15px;text-align:center">运输费用</div>
<div class="abs tx" style="left:1161.1px;top:662.2px;width:94.0px;height:20px;line-height:20px;font-size:15px;text-align:center">销售预算录入</div>
<div class="abs tx" style="left:1146.1px;top:712.4px;width:124.0px;height:20px;line-height:20px;font-size:15px;text-align:center">部门费用预算录入</div>
<div class="abs tx" style="left:1146.1px;top:762.3px;width:124.0px;height:20px;line-height:20px;font-size:15px;text-align:center">年度销售预算制定</div>
<div class="abs tx" style="left:1435.0px;top:210.7px;width:109.0px;height:20px;line-height:20px;font-size:15px;text-align:center">客户交易明细表</div>
<div class="abs tx" style="left:1420.0px;top:253.4px;width:139.0px;height:20px;line-height:20px;font-size:15px;text-align:center">门店销售统计汇总表</div>
<div class="abs tx" style="left:1442.5px;top:296.2px;width:94.0px;height:20px;line-height:20px;font-size:15px;text-align:center">商机跟踪报表</div>
<div class="abs tx" style="left:1423.8px;top:338.9px;width:131.5px;height:20px;line-height:20px;font-size:15px;text-align:center">商机跟踪表-业务员</div>
<div class="abs tx" style="left:1435.0px;top:381.7px;width:109.0px;height:20px;line-height:20px;font-size:15px;text-align:center">客户跟踪日报表</div>
<div class="abs tx" style="left:1427.5px;top:424.4px;width:124.0px;height:20px;line-height:20px;font-size:15px;text-align:center">销售阶段图形分析</div>
<div class="abs tx" style="left:1450.0px;top:467.1px;width:79.0px;height:20px;line-height:20px;font-size:15px;text-align:center">年度预算表</div>
<div class="abs tx" style="left:1420.0px;top:509.9px;width:139.0px;height:20px;line-height:20px;font-size:15px;text-align:center">部门预算费用达成率</div>
<div class="abs tx" style="left:1442.5px;top:552.6px;width:94.0px;height:20px;line-height:20px;font-size:15px;text-align:center">客户信用查询</div>
<div class="abs tx" style="left:1442.5px;top:595.4px;width:94.0px;height:20px;line-height:20px;font-size:15px;text-align:center">合同返点报表</div>
<div class="abs tx" style="left:1450.0px;top:638.1px;width:79.0px;height:20px;line-height:20px;font-size:15px;text-align:center">查看行事历</div>
<div class="abs tx" style="left:1405.0px;top:680.8px;width:169.0px;height:20px;line-height:20px;font-size:15px;text-align:center">年度销售目标达成分析表</div>
<div class="abs tx cw" style="left:20.0px;top:1002.6px;width:79.0px;height:20px;line-height:20px;font-size:15px;text-align:left">系统管理员</div>
<div class="abs tx cw" style="left:137.0px;top:1002.6px;width:131.5px;height:20px;line-height:20px;font-size:15px;text-align:left">复杂(Young-PC:FZ)</div>
<div class="abs tx cw" style="left:477.0px;top:1002.6px;width:49.0px;height:20px;line-height:20px;font-size:15px;text-align:left">局域网</div>
<div class="abs tx cw" style="left:1743.8px;top:1003.2px;width:56.5px;height:20px;line-height:20px;font-size:15px;text-align:left">预警[2]</div>
<div class="abs tx cw" style="left:1848.0px;top:1003.2px;width:56.5px;height:20px;line-height:20px;font-size:15px;text-align:left">消息[9]</div>
</body></html>
